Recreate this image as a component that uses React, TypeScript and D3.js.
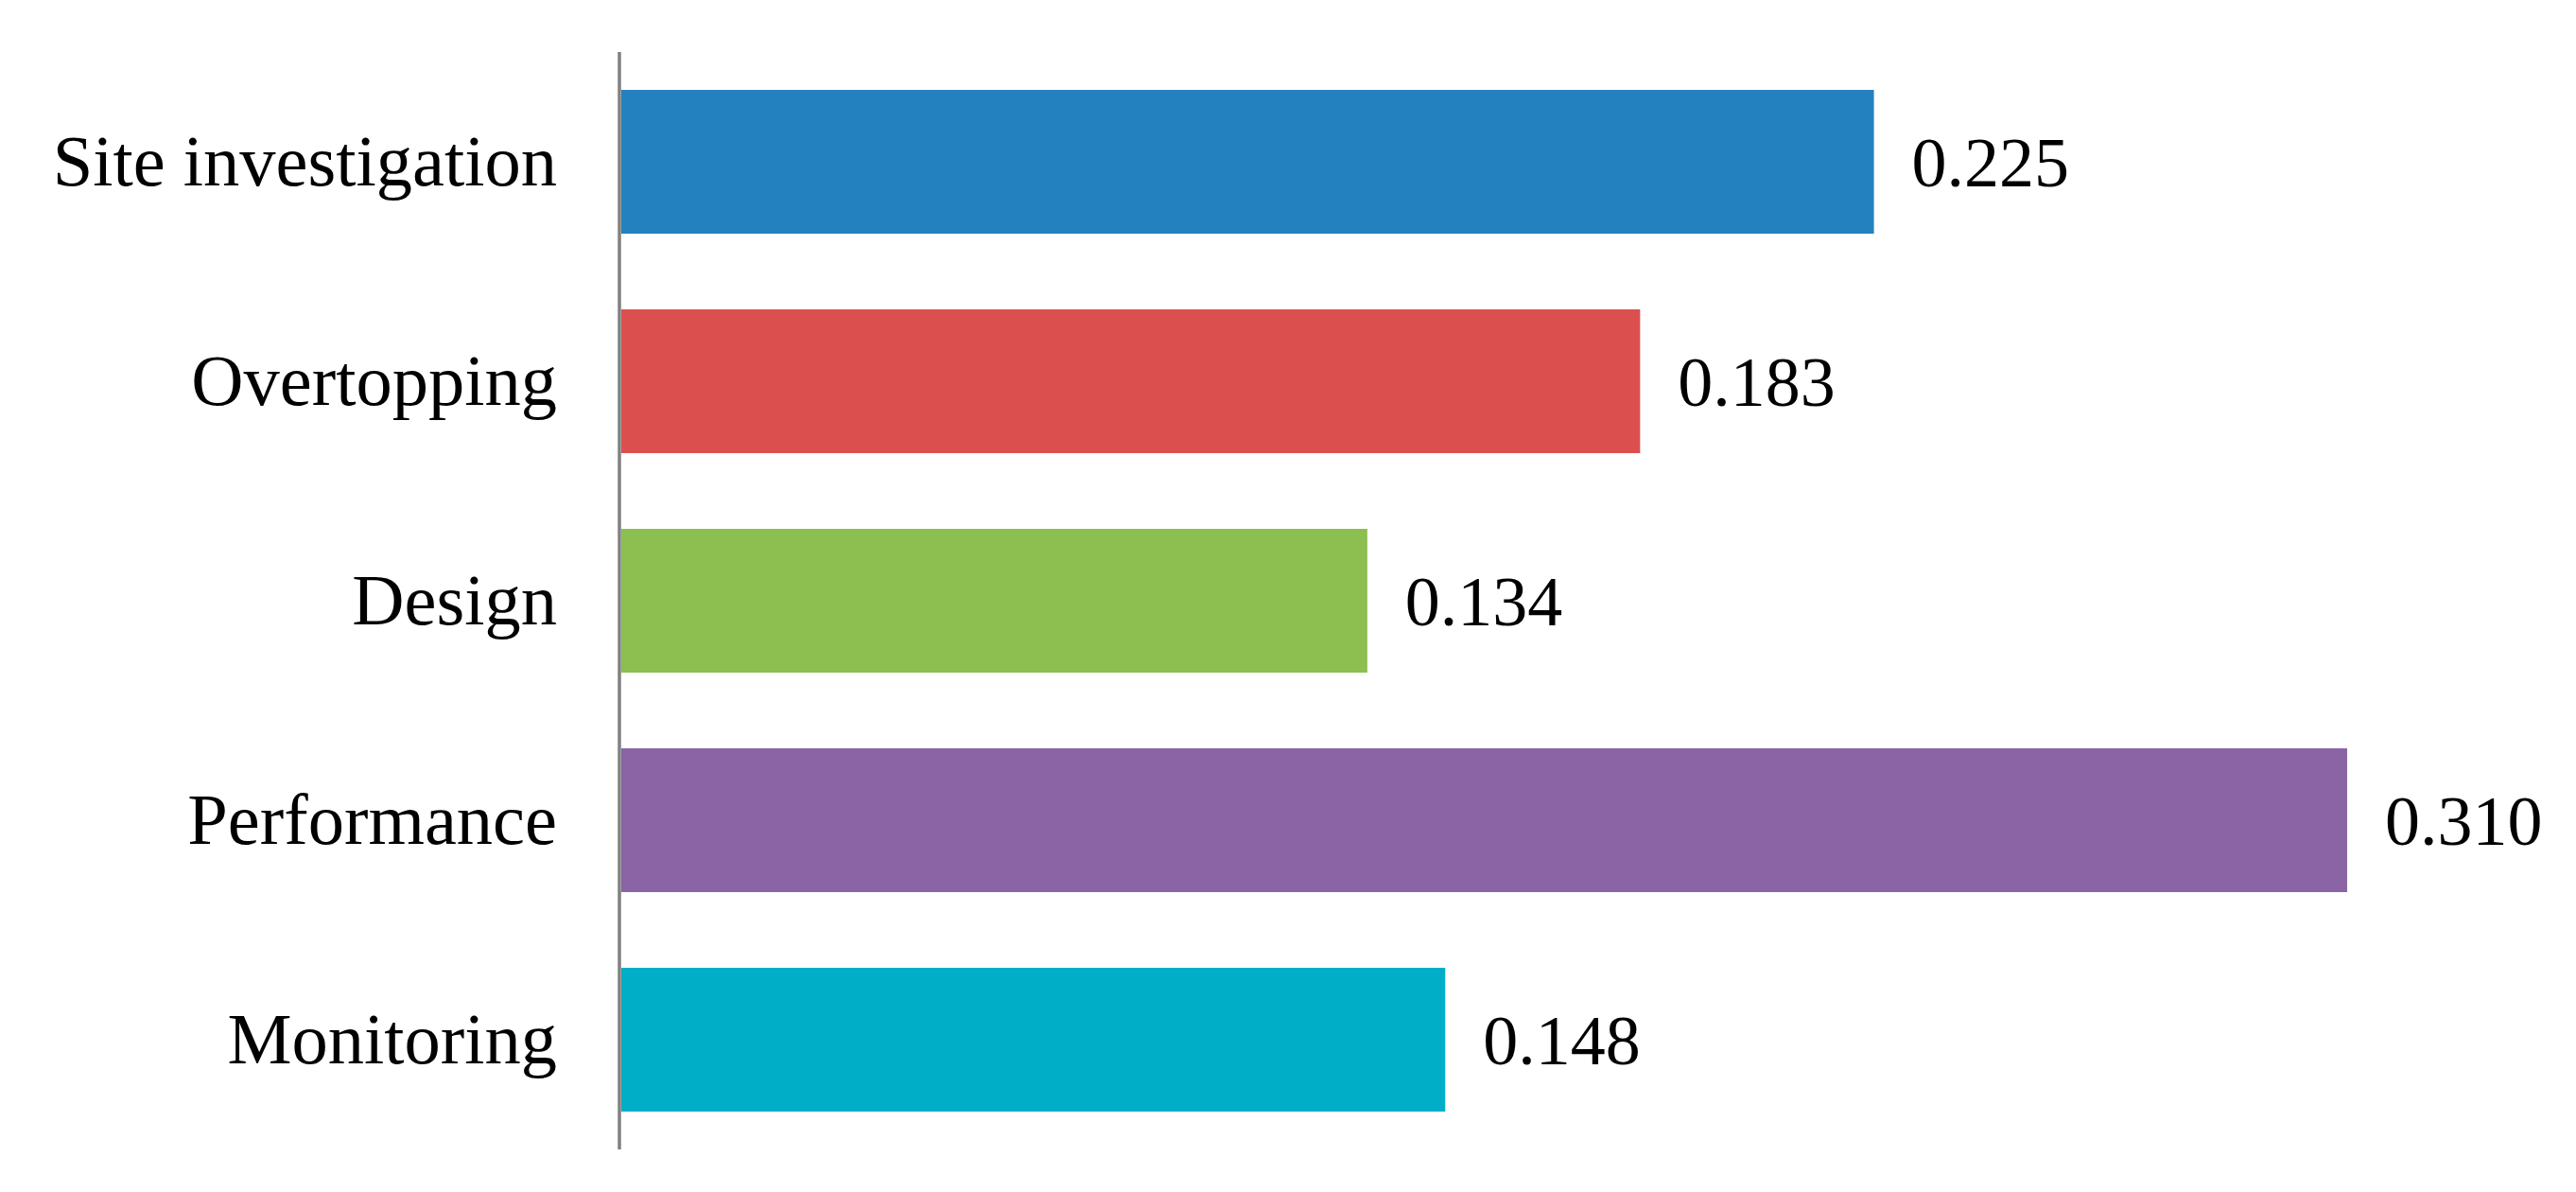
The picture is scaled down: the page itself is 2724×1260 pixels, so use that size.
import React from "react"
import * as d3 from "d3"

const categories = ["Site investigation", "Overtopping", "Design", "Performance", "Monitoring"]
const weights = [0.225, 0.183, 0.134, 0.31, 0.148]
const labels = ["0.225", "0.183", "0.134", "0.310", "0.148"]
const colors = ["#2381bf", "#db504e", "#8cbe50", "#8a64a4", "#00aec7"]

const width = 2724
const height = 1260
const axisX = 655
const font = "'Liberation Serif', 'Times New Roman', serif"

export default function App() {
    const x = d3.scaleLinear().domain([0, 0.31]).range([axisX + 2, 2482])
    const y = d3
        .scaleBand()
        .domain(categories)
        .range([55, 1215])
        .paddingInner(0.345)
        .paddingOuter(0.1725)

    return (
        <svg
            width={width}
            height={height}
            style={{ position: "absolute", left: 0, top: 0, background: "#fff" }}
        >
            {categories.map((c, i) => {
                const cy = y(c) + y.bandwidth() / 2
                return (
                    <g key={c}>
                        <rect
                            x={x(0)}
                            y={y(c)}
                            width={x(weights[i]) - x(0)}
                            height={y.bandwidth()}
                            fill={colors[i]}
                        />
                        <text
                            x={589}
                            y={cy + 25}
                            textAnchor="end"
                            fontFamily={font}
                            fontSize={76.5}
                            fill="#000"
                        >
                            {c}
                        </text>
                        <text
                            x={x(weights[i]) + 40}
                            y={cy + 26}
                            fontFamily={font}
                            fontSize={74}
                            fill="#000"
                        >
                            {labels[i]}
                        </text>
                    </g>
                )
            })}
            <line x1={axisX} x2={axisX} y1={55} y2={1215} stroke="#808080" strokeWidth={3.5} />
        </svg>
    )
}
